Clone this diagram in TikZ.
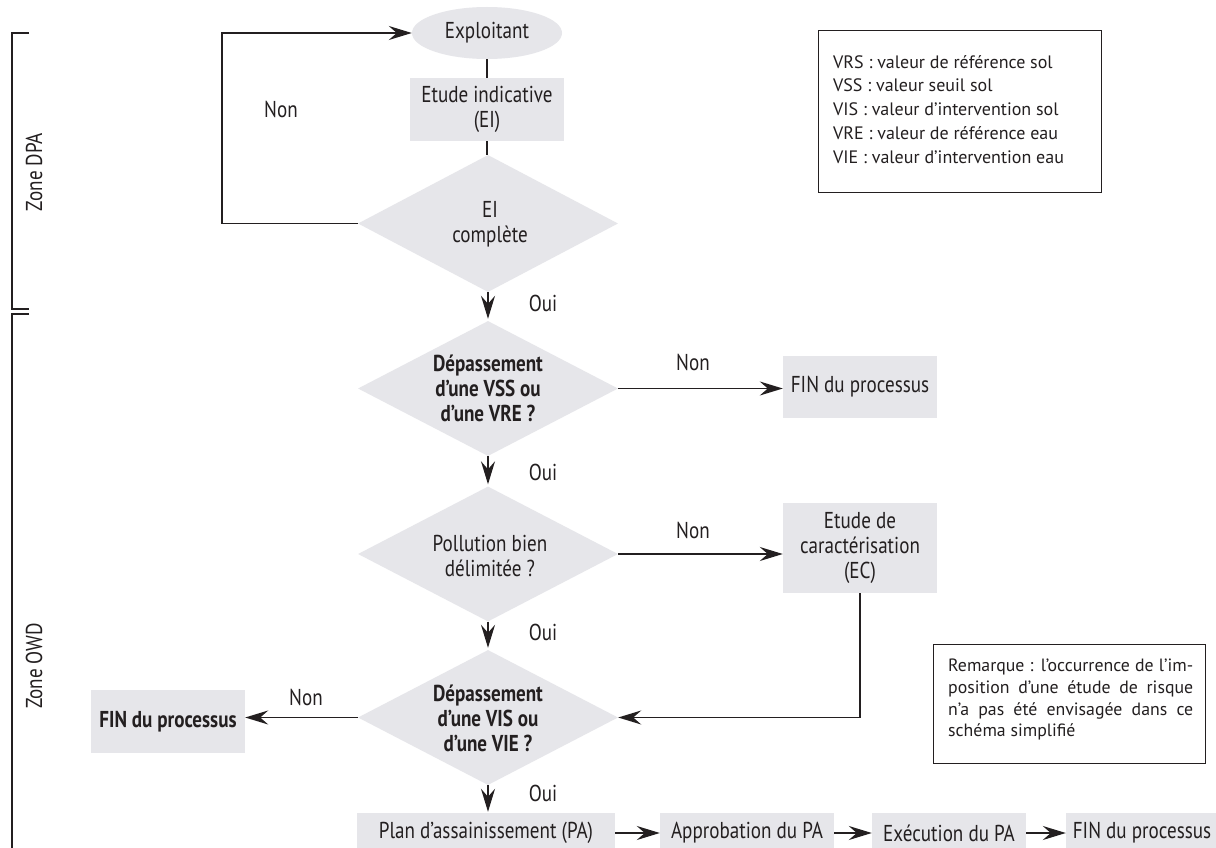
\documentclass[tikz,border=0pt]{standalone}
\usepackage{fontspec}
\setmainfont{PT Sans}[FakeStretch=0.83]
\newfontfamily\legfont{PT Sans}[FakeStretch=1.0]
\usetikzlibrary{shapes.geometric,arrows.meta}
\definecolor{boxgray}{RGB}{230,230,234}
\definecolor{ink}{RGB}{35,31,32}
\tikzset{
  base/.style={font=\fontsize{23}{25}\selectfont, text=ink, align=center, inner sep=0pt},
  greybox/.style={base, rectangle, fill=boxgray, minimum width=154pt, minimum height=62pt},
  decision/.style={diamond, fill=boxgray, aspect=1.926, minimum width=260pt, minimum height=135pt, inner sep=0pt},
  dtext/.style={base},
  dbold/.style={base, font=\fontsize{23}{25}\selectfont\bfseries},
  lbl/.style={font=\fontsize{23}{25}\selectfont, text=ink, inner sep=0pt},
  conn/.style={draw=ink, line width=1.9pt},
  arr/.style={conn, -{Stealth[length=23pt,width=14pt,inset=8pt]}},
  framebox/.style={draw=ink, line width=1.1pt},
  zonebr/.style={draw=ink, line width=1.6pt},
  zonelbl/.style={font=\fontsize{23}{25}\selectfont, text=ink, inner sep=0pt, rotate=90},
}
\begin{document}
\begin{tikzpicture}[x=1pt,y=-1pt]
\useasboundingbox (0,0) rectangle (1216,848);
\clip (0,0) rectangle (1216,848);
\fill[white] (0,0) rectangle (1216,848);

% zones
\coordinate (dpaT) at (29,33);
\coordinate (dpaB) at (29,309);
\coordinate (owdT) at (29,314);
\coordinate (owdB) at (12,870);
\draw[zonebr] (dpaT) -- (12,33) -- (12,309) -- (dpaB);
\draw[zonebr] (owdT) -- (12,314) -- (owdB);
\node[zonelbl] (zdpa) at (34,172) {Zone DPA};
\node[zonelbl] (zowd) at (34,666) {Zone OWD};

% main column
\node[base, ellipse, fill=boxgray, minimum width=150pt, minimum height=52pt] (expl) at (487,33) {Exploitant};
\node[greybox, minimum height=63pt] (ei) at (487,109.5) {Etude indicative\\(EI)};
\node[decision, minimum height=137pt] (d1) at (488,223.5) {};
\node[dtext] (d1t) at (490,224) {EI\\complète};
\node[decision] (d2) at (488,388.5) {};
\node[dbold] (d2t) at (488,388) {Dépassement\\d’une VSS ou\\d’une VRE ?};
\node[decision] (d3) at (488,554) {};
\node[dtext] (d3t) at (490,556) {Pollution bien\\délimitée ?};
\node[decision] (d4) at (488,717.5) {};
\node[dbold] (d4t) at (488,718) {Dépassement\\d’une VIS ou\\d’une VIE ?};

\node[greybox] (fin1) at (860,387) {FIN du processus};
\node[greybox, minimum height=90pt] (ec) at (860,548) {Etude de\\caractérisation\\(EC)};
\node[greybox, minimum height=63pt, font=\fontsize{23}{25}\selectfont\bfseries] (fin2) at (168,721.5) {FIN du processus};

% bottom row
\node[greybox, minimum width=258pt, minimum height=40pt] (pa) at (486,833) {Plan d’assainissement (PA)};
\node[greybox, minimum width=174pt, minimum height=40pt] (app) at (747,833) {Approbation du PA};
\node[greybox, minimum width=154pt, minimum height=40pt] (exe) at (949,833) {Exécution du PA};
\node[greybox, minimum width=152pt, minimum height=40pt] (fin3) at (1142,833) {FIN du processus};

% connectors
\draw[conn] (expl.south) -- (ei.north);
\draw[conn] (ei.south) -- (ei.south |- d1.north);
\draw[arr] (d1.west) -- ++(-136,0) |- (expl.west);
\draw[arr, shorten >=2pt] (d1.south) -- (d2.north);
\draw[arr, shorten >=2pt] (d2.south) -- (d3.north);
\draw[arr, shorten >=2pt] (d3.south) -- (d4.north);
\draw[arr, shorten >=1pt] (d4.south) -- (d4.south |- pa.north);
\draw[arr] (d2.east) -- (d2.east -| fin1.west);
\draw[arr] (d3.east) -- (d3.east -| ec.west);
\draw[arr] (ec.south) |- (d4.east);
\draw[arr] (d4.west) -- (d4.west -| fin2.east);
\draw[arr] (pa.east) -- (app.west);
\draw[arr] (app.east) -- (exe.west);
\draw[arr] (exe.east) -- (fin3.west);

% labels
\node[lbl] (nonloop) at (281,109) {Non};
\node[lbl] (oui1) at (543,303) {Oui};
\node[lbl] (oui2) at (543,472) {Oui};
\node[lbl] (oui3) at (543,632) {Oui};
\node[lbl] (oui4) at (543,793) {Oui};
\node[lbl] (non2) at (693,362) {Non};
\node[lbl] (non3) at (693,530) {Non};
\node[lbl] (non4) at (306,697) {Non};

% legend
\node[framebox, anchor=north west, minimum width=283pt, minimum height=162pt, inner sep=0pt] (legend) at (818,30) {};
\node[anchor=north west, align=left, inner sep=0pt, text=ink, font=\legfont\fontsize{18}{23.75}\selectfont] (legtxt) at (833,55) {VRS : valeur de référence sol\\VSS : valeur seuil sol\\VIS : valeur d’intervention sol\\VRE : valeur de référence eau\\VIE : valeur d’intervention eau};

% remark
\node[framebox, anchor=north west, minimum width=272pt, minimum height=119pt, inner sep=0pt] (remark) at (933,644) {};
\node[anchor=north west, align=left, inner sep=0pt, text=ink, font=\legfont\fontsize{17.8}{21.7}\selectfont] (remtxt) at (948,659) {\hbox to 245pt{Remarque : l’occurrence de l’im-}\\\hbox to 245pt{position d’une étude de risque}\\\hbox to 245pt{n’a pas été envisagée dans ce}\\schéma simplifié};
\end{tikzpicture}
\end{document}
